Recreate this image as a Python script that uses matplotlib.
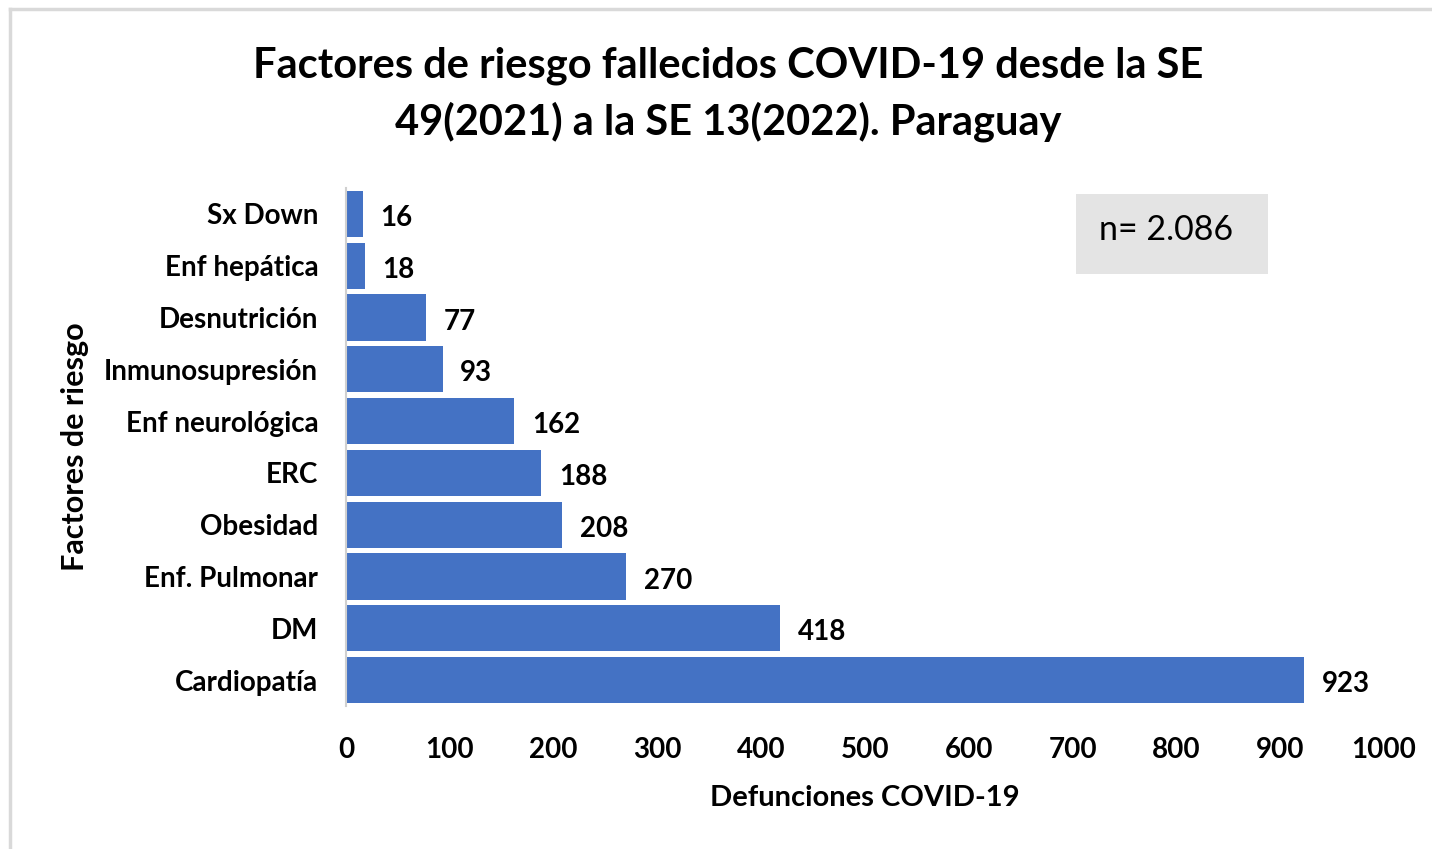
import matplotlib.pyplot as plt
from matplotlib.patches import Rectangle

categorias = ["Cardiopatía", "DM", "Enf. Pulmonar", "Obesidad", "ERC",
              "Enf neurológica", "Inmunosupresión", "Desnutrición",
              "Enf hepática", "Sx Down"]
defunciones = [923, 418, 270, 208, 188, 162, 93, 77, 18, 16]
xticks = [0, 100, 200, 300, 400, 500, 600, 700, 800, 900, 1000]

titulo = "Factores de riesgo fallecidos COVID-19 desde la SE\n49(2021) a la SE 13(2022). Paraguay"

plt.rcParams['font.family'] = ['Lato', 'DejaVu Sans']
plt.rcParams['font.weight'] = 'bold'

fig = plt.figure(figsize=(14.32, 8.49), dpi=100)
ax = fig.add_axes([0.2416, 0.1684, 0.7249, 0.6102])

ax.barh(range(len(categorias)), defunciones, height=0.89, color='#4472C4')
for i, v in enumerate(defunciones):
    ax.text(v + 17, i - 0.08, str(v), va='center', ha='left', fontsize=20, fontweight='bold')

ax.set_xlim(0, 1000)
ax.set_ylim(-0.5, len(categorias) - 0.5)
ax.set_xticks(xticks)
ax.set_yticks(range(len(categorias)))
ax.set_yticklabels(categorias)
ax.tick_params(axis='both', length=0, labelsize=20, colors='black')
ax.tick_params(axis='x', pad=22)
ax.tick_params(axis='y', pad=20)
for s in ['top', 'right', 'bottom']:
    ax.spines[s].set_visible(False)
ax.spines['left'].set_color('#d0d0d0')
ax.spines['left'].set_linewidth(1.5)

ax.set_xlabel("Defunciones COVID-19", fontsize=21, fontweight='bold', labelpad=16)
ax.set_ylabel("Factores de riesgo", fontsize=22, fontweight='bold', labelpad=11)

fig.text(0.5085, 0.889, titulo, ha='center', va='center', fontsize=30,
         fontweight='bold', linespacing=1.5)

# cuadro n=
fig.patches.append(Rectangle((1076 / 1432, 1 - 274 / 849), 192 / 1432, 80 / 849,
                             transform=fig.transFigure, facecolor='#e4e4e4',
                             edgecolor='none'))
fig.text(1166 / 1432, 1 - 230 / 849, "n= 2.086", ha='center', va='center',
         fontsize=24.5, fontweight='normal')

# marco exterior
fig.add_artist(plt.Line2D([9.5 / 1432, 1], [1 - 9 / 849] * 2, transform=fig.transFigure,
                          color='#d9d9d9', lw=2.5))
fig.add_artist(plt.Line2D([9.5 / 1432] * 2, [0, 1 - 9 / 849], transform=fig.transFigure,
                          color='#d9d9d9', lw=2.5))

fig.savefig("out.png", dpi=100)
